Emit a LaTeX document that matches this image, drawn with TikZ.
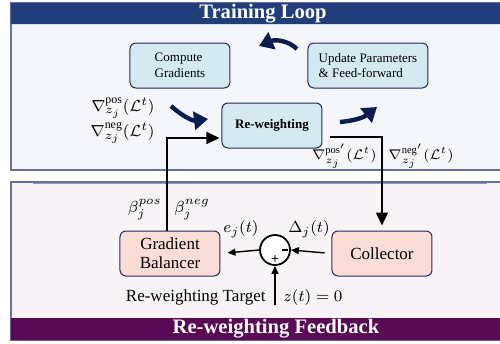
\documentclass[tikz,border=0pt]{standalone}
\usepackage{amsmath,amssymb}
\usepackage{fontspec}
\setmainfont{Liberation Serif}
\usepackage{tikz}
\usetikzlibrary{arrows.meta, positioning}
\definecolor{loopblue}{RGB}{33,62,123}
\definecolor{feedpurple}{RGB}{90,10,85}
\definecolor{framegray}{RGB}{105,112,160}
\definecolor{loopfill}{RGB}{244,246,251}
\definecolor{feedfill}{RGB}{248,243,246}
\definecolor{nodeblue}{RGB}{212,234,240}
\definecolor{nodepink}{RGB}{250,221,215}
\definecolor{nodeedge}{RGB}{40,40,95}
\definecolor{bignavy}{RGB}{10,28,80}

\begin{document}
\begin{tikzpicture}[
    x=0.5pt, y=-0.5pt,
    every node/.style={inner sep=1pt},
    topblk/.style={draw=nodeedge, fill=nodeblue, rounded corners=3pt, align=left,
                minimum width=50pt, minimum height=22.5pt, line width=0.5pt,
                font=\fontsize{6.5}{7.8}\selectfont},
    botblk/.style={topblk, fill=nodepink, align=center, font=\fontsize{8.5}{9.6}\selectfont},
    sumblk/.style={circle, draw=black, fill=white, line width=0.9pt, minimum size=15pt, inner sep=0pt},
    bartitle/.style={text=white, font=\fontsize{10.3}{12}\selectfont\bfseries},
    mlbl/.style={font=\fontsize{8.5}{10}\selectfont},
    line/.style={draw=black, line width=0.75pt, -{Triangle[length=6.5pt,width=6pt]}},
    sline/.style={draw=black, line width=0.7pt, -{Triangle[length=4pt,width=3.5pt]}},
    bigarrow/.style={draw=bignavy, line width=2.2pt, -{Triangle[length=7pt,width=9pt]}}
]
\useasboundingbox (0,0) rectangle (500,344);
\clip (0,0) rectangle (500,344);

% -------- Frames --------
\draw[framegray, fill=loopfill, line width=0.6pt] (530,170) -- (11,170) -- (11,3) [rounded corners=3pt] -- (530,3);
\fill[loopblue] (530,24) -- (11,24) -- (11,3) [rounded corners=3pt] -- (530,3) -- cycle;
\draw[framegray, fill=feedfill, line width=0.6pt] (530,182) -- (11,182) -- (11,340) [rounded corners=3pt] -- (530,340);
\fill[feedpurple] (530,318) -- (11,318) -- (11,340) [rounded corners=3pt] -- (530,340) -- cycle;
\draw[framegray!70, line width=0.4pt] (33,183.5) -- (487,183.5);

\node[bartitle] (looptitle) at (263,14) {Training Loop};
\node[bartitle] (feedtitle) at (276,329) {Re-weighting Feedback};

% -------- Training loop --------
\node[topblk]                  (comp) at (180,65.5)  {Compute\\Gradients};
\node[topblk, minimum width=60pt] (upd) at (368,65.5) {Update Parameters\\\& Feed-forward};
\node[topblk, align=center, font=\fontsize{6.5}{7.8}\selectfont\bfseries]
                               (rew)  at (272,125.5) {Re-weighting};

\draw[bigarrow] (297,49) .. controls (289,41) and (276,39) .. (259,46);
\draw[bigarrow] (171,106) .. controls (181,115) and (192,121) .. (208,119);
\draw[bigarrow] (340,122) .. controls (352,121) and (363,118) .. (377,107);

\node[mlbl, anchor=east] (gpos) at (157,108) {$\nabla^{\mathrm{pos}}_{z_j}(\mathcal{L}^t)$};
\node[mlbl, anchor=east] (gneg) at (157,133) {$\nabla^{\mathrm{neg}}_{z_j}(\mathcal{L}^t)$};
\node[mlbl, anchor=east, font=\fontsize{7.5}{9}\selectfont] (gposr) at (379,156) {$\nabla^{\mathrm{pos}'}_{z_j}(\mathcal{L}^t)$};
\node[mlbl, anchor=west, font=\fontsize{7.5}{9}\selectfont] (gnegr) at (386,156) {$\nabla^{\mathrm{neg}'}_{z_j}(\mathcal{L}^t)$};

% -------- Feedback --------
\node[botblk] (bal)  at (170,253.5) {Gradient\\Balancer};
\node[botblk] (coll) at (382,253.5) {Collector};
\node[sumblk] (sum)  at (275,250) {};
\node[inner sep=0pt] (minus) at ([xshift=-3pt]sum.east) {\rule{3pt}{1pt}};
\node[inner sep=0pt, font=\fontsize{7}{7}\selectfont\bfseries] (plus) at ([yshift=3.2pt]sum.south) {+};
\coordinate (goal) at (275,305);

\node[mlbl, anchor=east] (bpos)  at (164,210) {$\beta_j^{pos}$};
\node[mlbl, anchor=west] (bneg)  at (172,210) {$\beta_j^{neg}$};
\node[mlbl]              (err)   at (241,229) {$e_j(t)$};
\node[mlbl]              (delta) at (309,229) {$\Delta_j(t)$};
\node[mlbl, anchor=east] (tgt)   at (268,297) {Re-weighting Target};
\node[mlbl, anchor=west] (zero)  at (281,297) {$z(t) = 0$};

% -------- Connectors --------
\draw[line, shorten >=1pt] ([xshift=-1.5pt]bal.north) |- ([yshift=-6.25pt]rew.west);
\draw[line, shorten <=4pt, shorten >=2.5pt] ([yshift=-5.75pt]rew.east) -| (coll.north);
\draw[sline, shorten <=3.5pt] (coll.west) -- (sum.east);
\draw[sline, shorten >=3.5pt] (sum.west) -- (bal.east);
\draw[sline] (goal) -- (sum.south);

\end{tikzpicture}
\end{document}
